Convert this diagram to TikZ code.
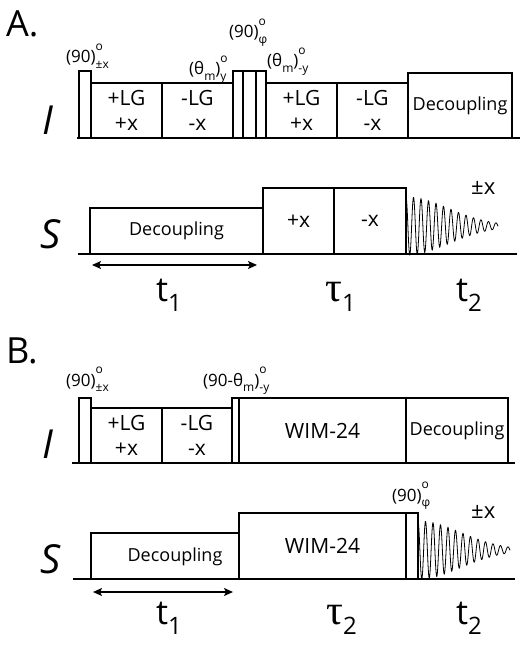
\documentclass[tikz,border=0pt]{standalone}
\usepackage{fontspec}
\setmainfont{Open Sans}
\newfontfamily\greekserif{Liberation Serif}
\usepackage{tikz}
\usetikzlibrary{arrows.meta}
\newcommand{\fsz}[1]{\fontsize{#1}{#1}\selectfont}
\newcommand{\pang}[3]{#1\rlap{\raisebox{0.72em}{\fsz{12}#2}}\raisebox{-0.3em}{\fsz{12}#3}}
\newcommand{\tsub}[2]{#1\raisebox{-0.3em}{\fsz{24}#2}}
\tikzstyle{pbox}=[draw,line width=1.3pt,inner sep=0pt,outer sep=0pt,anchor=south west,align=center]
\tikzstyle{plabel}=[inner sep=0pt,anchor=base west,font=\fsz{17}]
\tikzstyle{tlabel}=[inner sep=0pt,anchor=base west,font=\fsz{34}]

\begin{document}
\begin{tikzpicture}[x=1pt,y=-1pt]
    \tikzstyle{lgbox}=[pbox,minimum width=71pt,minimum height=55pt,font=\fontsize{21}{25}\selectfont]
    \tikzstyle{decbox}=[pbox,font=\fsz{18}]
    \tikzstyle{chan}=[inner sep=0pt,anchor=base west,font=\fsz{40}\itshape]
    \tikzstyle{panel}=[inner sep=0pt,anchor=base west,font=\fsz{36}]
    \tikzstyle{fid}=[line width=0.8pt]
    \tikzstyle{span}=[line width=1.3pt,{Stealth[length=9pt,width=8pt,inset=2pt]}-{Stealth[length=9pt,width=8pt,inset=2pt]}]
    \useasboundingbox (0,0) rectangle (526,652);

    % A
    \node[panel] (la) at (6,37) {A.};
    \node[chan] (iA) at (42,135) {I};
    \node[chan] (sA) at (40,248) {S};
    \coordinate (iA0) at (77,138);
    \coordinate (iA1) at (520,138);
    \coordinate (sA0) at (78,254);
    \coordinate (sA1) at (517,254);
    \draw[line width=1.3pt] (iA0) -- (iA1);
    \draw[line width=1.3pt] (sA0) -- (sA1);

    \node[pbox,minimum width=12pt,minimum height=67pt] (pA1) at (79,138) {};
    \node[lgbox] (lgA1) at (91,138)  {+LG\\+x};
    \node[lgbox] (lgA2) at (162,138) {-LG\\-x};
    \node[pbox,minimum width=10pt,minimum height=67pt] (pA2) at (233,138) {};
    \node[pbox,minimum width=13pt,minimum height=67pt] (pA3) at (243,138) {};
    \node[pbox,minimum width=10pt,minimum height=67pt] (pA4) at (256,138) {};
    \node[lgbox] (lgA3) at (266,138) {+LG\\+x};
    \node[lgbox] (lgA4) at (337,138) {-LG\\-x};
    \node[decbox,minimum width=104pt,minimum height=65pt] (decA) at (408,138) {Decoupling};

    \node[plabel] (aA1) at (66,63)  {\pang{(90)}{o}{±x}};
    \node[plabel] (aA2) at (189,75) {\pang{(θ\raisebox{-0.3em}{\fsz{12}m})}{o}{y}};
    \node[plabel] (aA3) at (229,38) {\pang{(90)}{o}{φ}};
    \node[plabel] (aA4) at (267,67) {\pang{(θ\raisebox{-0.3em}{\fsz{12}m})}{o}{-y}};

    \node[decbox,minimum width=173pt,minimum height=46pt] (decSA) at (90,254) {Decoupling};
    \node[decbox,font=\fsz{21},minimum width=71pt,minimum height=66pt] (xA1) at (263,254) {+x};
    \node[decbox,font=\fsz{21},minimum width=72pt,minimum height=66pt] (xA2) at (334,254) {-x};
    \draw[fid] plot[domain=0:92,samples=400,smooth] ({406+\x},{226-29*exp(-0.00028*\x*\x)*cos(48*\x)});
    \node[inner sep=0pt,anchor=base west,font=\fsz{22}] (pmA) at (471,194) {±x};

    \coordinate (tA0) at (92,265);
    \coordinate (tA1) at (257,265);
    \draw[span] (tA0) -- (tA1);
    \node[tlabel] (t1A) at (156,301) {\tsub{t}{1}};
    \node[tlabel] (tauA) at (325,301) {\tsub{{\greekserif\fsz{42}τ}}{1}};
    \node[tlabel] (t2A) at (456,301) {\tsub{t}{2}};

    % B
    \node[panel] (lb) at (6,363) {B.};
    \node[chan] (iB) at (42,458) {I};
    \node[chan] (sB) at (40,573) {S};
    \coordinate (iB0) at (72,463);
    \coordinate (iB1) at (515,463);
    \coordinate (sB0) at (73,579);
    \coordinate (sB1) at (515,579);
    \draw[line width=1.3pt] (iB0) -- (iB1);
    \draw[line width=1.3pt] (sB0) -- (sB1);

    \node[pbox,minimum width=12pt,minimum height=65pt] (pB1) at (79,463) {};
    \node[lgbox] (lgB1) at (91,463) {+LG\\+x};
    \node[lgbox,minimum width=70pt] (lgB2) at (162,463) {-LG\\-x};
    \node[pbox,minimum width=7pt,minimum height=65pt] (pB2) at (232,463) {};
    \node[decbox,font=\fsz{21},minimum width=167pt,minimum height=65pt] (wimB) at (239,463) {WIM-24};
    \node[decbox,minimum width=102pt,minimum height=65pt] (decB) at (406,463) {Decoupling};

    \node[plabel] (aB1) at (66,386)  {\pang{(90)}{o}{±x}};
    \node[plabel] (aB2) at (203,386) {\pang{(90-θ\raisebox{-0.3em}{\fsz{12}m})}{o}{-y}};
    \node[plabel] (aB3) at (392,501) {\pang{(90)}{o}{φ}};

    \node[decbox,minimum width=148pt,minimum height=46pt] (decSB) at (91,579) {};
    \node[font=\fsz{18},inner sep=0pt] (decSBt) at (175,557) {Decoupling};
    \node[decbox,font=\fsz{21},minimum width=167pt,minimum height=66pt] (wimSB) at (239,579) {WIM-24};
    \node[pbox,minimum width=12pt,minimum height=66pt] (pSB) at (406,579) {};
    \draw[fid] plot[domain=0:92,samples=400,smooth] ({418+\x},{550-29*exp(-0.00028*\x*\x)*cos(48*\x)});
    \node[inner sep=0pt,anchor=base west,font=\fsz{22}] (pmB) at (471,518) {±x};

    \coordinate (tB0) at (93,592);
    \coordinate (tB1) at (233,592);
    \draw[span] (tB0) -- (tB1);
    \node[tlabel] (t1B) at (156,624) {\tsub{t}{1}};
    \node[tlabel] (tauB) at (326,624) {\tsub{{\greekserif\fsz{42}τ}}{2}};
    \node[tlabel] (t2B) at (456,624) {\tsub{t}{2}};
\end{tikzpicture}
\end{document}
